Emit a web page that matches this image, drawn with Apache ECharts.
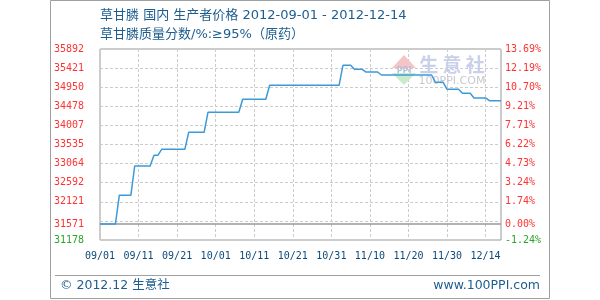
<!DOCTYPE html>
<html>
<head>
<meta charset="utf-8">
<script src="https://cdn.jsdelivr.net/npm/echarts@6/dist/echarts.min.js"></script>
<style>html,body{margin:0;padding:0;background:#fff}#c{width:600px;height:300px}</style>
</head>
<body>
<div id="c"></div>
<script>
// ---- data ----
const titleLine1 = '草甘膦 国内 生产者价格 2012-09-01 - 2012-12-14';
const titleLine2 = '草甘膦质量分数/%:≥95%（原药）';
const footerLeft = '© 2012.12 生意社';
const footerRight = 'www.100PPI.com';

// x: days since 2012-09-01 (change points of the step line)
const days   = [0, 4, 5, 8, 9, 13, 14, 15, 16, 22, 23, 27, 28, 36, 37, 43, 44, 62, 63, 65, 66, 68, 69, 72, 73, 86, 87, 89, 90, 93, 94, 96, 97, 100, 101, 104];
const prices = [31571, 31571, 32280, 32280, 33004, 33004, 33268, 33268, 33416, 33416, 33835, 33835, 34329, 34329, 34650, 34650, 34996, 34996, 35490, 35490, 35391, 35391, 35324, 35324, 35250, 35250, 35070, 35070, 34897, 34897, 34799, 34799, 34683, 34683, 34616, 34616];

const xLabels = ['09/01', '09/11', '09/21', '10/01', '10/11', '10/21', '10/31', '11/10', '11/20', '11/30', '12/14'];
const yTickValues  = [31178, 31571, 32121, 32592, 33064, 33535, 34007, 34478, 34950, 35421, 35892];
const leftLabels   = ['31178', '31571', '32121', '32592', '33064', '33535', '34007', '34478', '34950', '35421', '35892'];
const rightLabels  = ['-1.24%', '0.00%', '1.74%', '3.24%', '4.73%', '6.22%', '7.71%', '9.21%', '10.70%', '12.19%', '13.69%'];
const baseValue = 31571;
const yMin = 31178, yMax = 35892;

// ---- chart ----
const chart = echarts.init(document.getElementById('c'), null, {renderer: 'canvas'});
const mono = 'DejaVu Sans Mono';
const textFont = '"DejaVu Sans", "Noto Sans CJK SC"';
const labelColor = function (v) {
  if (v < baseValue) return '#2aa52a';
  if (v === baseValue) return '#000000';
  return '#ff3333';
};
const idxOf = v => yTickValues.indexOf(v);

chart.setOption({
  backgroundColor: '#ffffff',
  animation: false,
  grid: {left: 100, right: 99, top: 49, bottom: 60, show: true, borderColor: '#999999', borderWidth: 1, backgroundColor: 'transparent'},
  xAxis: {
    type: 'value', min: 0, max: 104, interval: 10,
    axisLine: {show: false}, axisTick: {show: false},
    splitLine: {show: true, lineStyle: {color: '#cccccc', type: [3, 2], width: 1}},
    axisLabel: {
      margin: 11, fontFamily: mono, fontSize: 10, color: '#0b4a7c',
      formatter: function (v) { return (v % 10 === 0 && v / 10 < xLabels.length) ? xLabels[v / 10] : ''; }
    }
  },
  yAxis: [
    {
      type: 'value', min: yMin, max: yMax, position: 'left',
      axisLine: {show: false}, axisTick: {show: false}, splitLine: {show: false},
      axisLabel: {
        customValues: yTickValues, margin: 16, fontFamily: mono, fontSize: 10,
        color: labelColor,
        formatter: function (v) { const i = idxOf(v); return i >= 0 ? leftLabels[i] : ''; }
      }
    },
    {
      type: 'value', min: yMin, max: yMax, position: 'right',
      axisLine: {show: false}, axisTick: {show: false}, splitLine: {show: false},
      axisLabel: {
        customValues: yTickValues, margin: 4, fontFamily: mono, fontSize: 10,
        color: labelColor,
        formatter: function (v) { const i = idxOf(v); return i >= 0 ? rightLabels[i] : ''; }
      }
    },
    {
      // helper axis: 10 equal divisions for the dashed grid
      type: 'value', min: 0, max: 10, interval: 1, position: 'left', show: true,
      axisLine: {show: false}, axisTick: {show: false}, axisLabel: {show: false},
      splitLine: {show: true, lineStyle: {color: '#cccccc', type: [3, 2], width: 1}}
    }
  ],
  series: [{
    type: 'line',
    yAxisIndex: 0,
    data: days.map((d, i) => [d, prices[i]]),
    showSymbol: false,
    symbol: 'none',
    lineStyle: {color: '#3d9ad8', width: 1.5},
    z: 5,
    markLine: {
      silent: true, symbol: 'none', label: {show: false}, z: 3,
      lineStyle: {color: '#999999', type: 'solid', width: 1.5},
      data: [{yAxis: baseValue}]
    }
  }],
  graphic: [
    {type: 'rect', shape: {x: 50.5, y: 0.5, width: 499, height: 298}, style: {fill: 'none', stroke: '#a0a0a0', lineWidth: 1}, z: 0},
    {type: 'line', shape: {x1: 55, y1: 275.5, x2: 540, y2: 275.5}, style: {stroke: '#a0a0a0', lineWidth: 1}},
    {type: 'text', x: 100, y: 16, style: {text: titleLine1, fill: '#1d5d8f', font: '13px ' + textFont, textVerticalAlign: 'middle'}},
    {type: 'text', x: 100, y: 35, style: {text: titleLine2, fill: '#1d5d8f', font: '13px ' + textFont, textVerticalAlign: 'middle'}},
    {type: 'text', x: 60, y: 285.5, style: {text: footerLeft, fill: '#1d5d8f', font: '12.5px ' + textFont, textVerticalAlign: 'middle'}},
    {type: 'text', x: 540, y: 285.5, style: {text: footerRight, fill: '#1d5d8f', font: '12.5px ' + textFont, textAlign: 'right', textVerticalAlign: 'middle'}},
    // watermark
    {type: 'polygon', shape: {points: [[404, 55], [392, 68], [416, 68]]}, style: {fill: '#f6c4c4'}, z: 1},
    {type: 'polygon', shape: {points: [[392, 73], [416, 73], [404, 85]]}, style: {fill: '#c9ebcc'}, z: 1},
    {type: 'text', x: 404, y: 70.5, style: {text: 'PPI', fill: '#b8bfd8', font: 'bold 8px "DejaVu Sans"', textAlign: 'center', textVerticalAlign: 'middle'}, z: 1},
    {type: 'text', x: 452, y: 65, style: {text: '生 意 社', fill: '#c9d0ea', font: 'bold 19px "Noto Sans CJK SC"', textAlign: 'center', textVerticalAlign: 'middle'}, z: 1},
    {type: 'text', x: 452, y: 81, style: {text: '100PPI.COM', fill: '#c8c8d0', font: '11px "DejaVu Sans"', textAlign: 'center', textVerticalAlign: 'middle'}, z: 1}
  ]
});
</script>
</body>
</html>
